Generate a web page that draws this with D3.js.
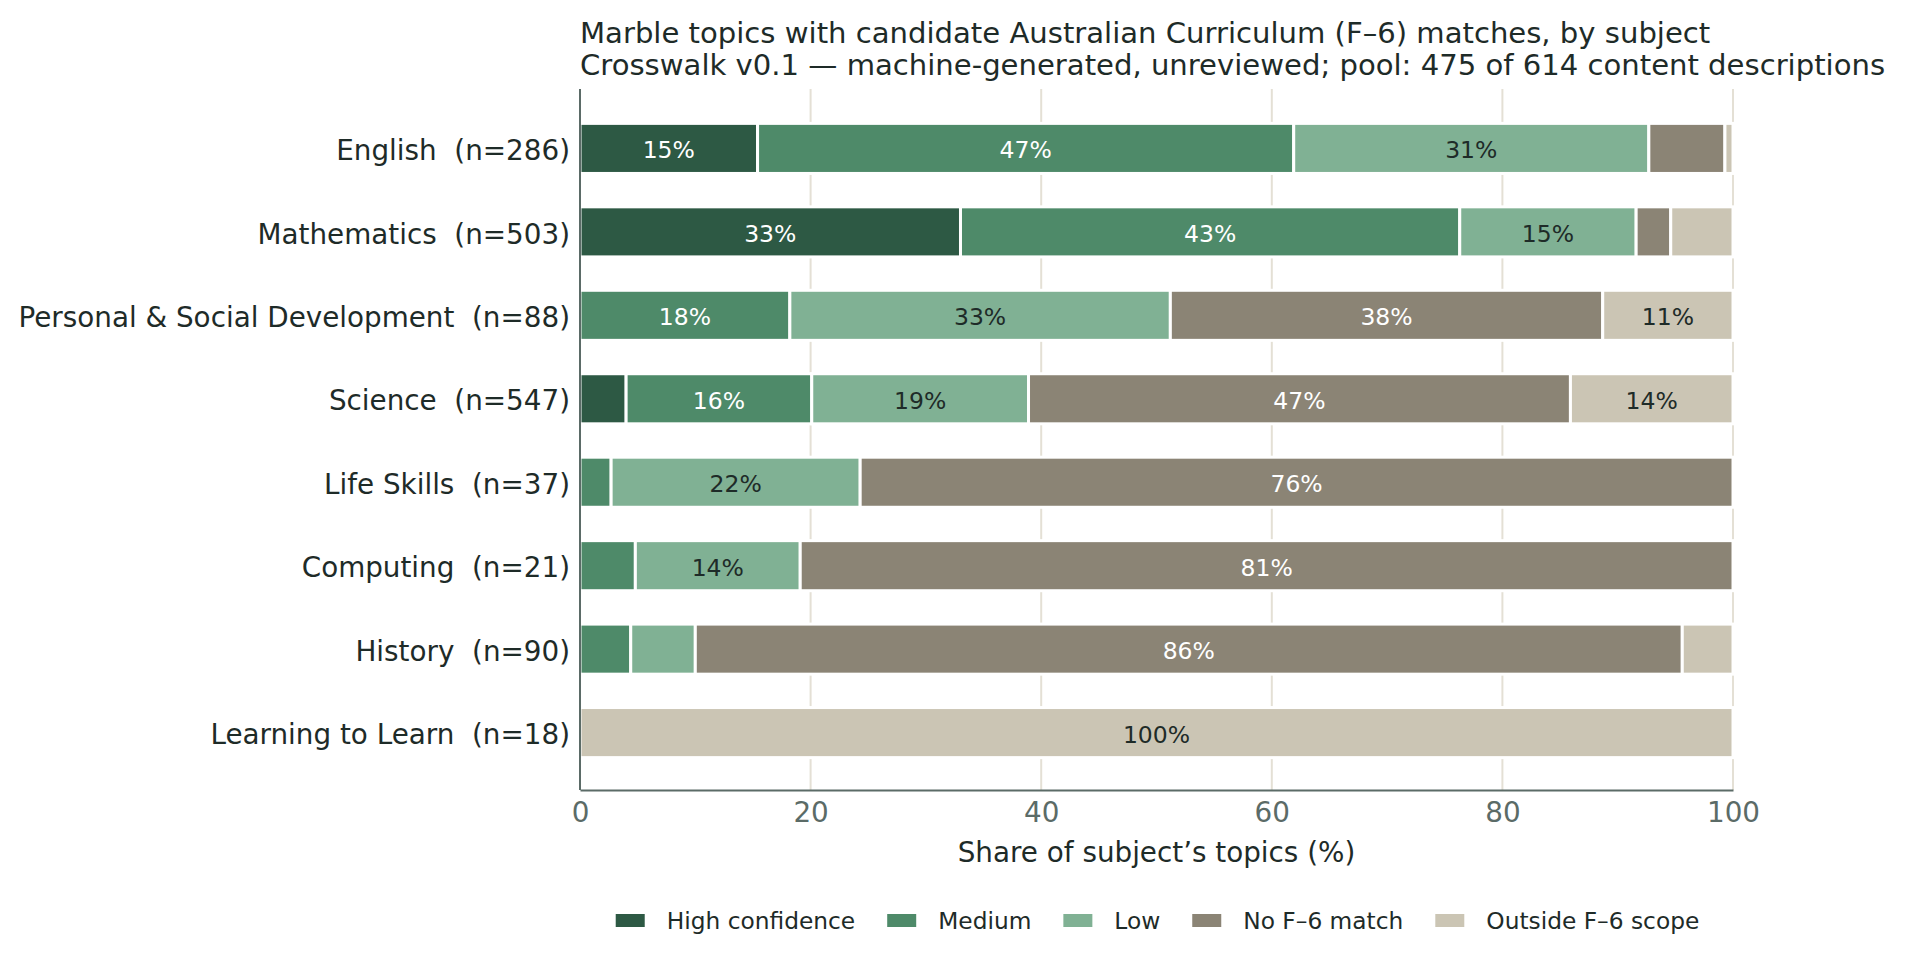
<!DOCTYPE html>
<html>
<head>
<meta charset="utf-8">
<script src="https://cdn.jsdelivr.net/npm/d3@7"></script>
<style>
  html, body { margin: 0; padding: 0; background: #ffffff; }
  svg { display: block; font-family: "DejaVu Sans", sans-serif; }
  text { white-space: pre; }
</style>
</head>
<body>
<svg id="chart" width="1907" height="963"></svg>
<script>
// ---- data ----
const subjects = ["English", "Mathematics", "Personal & Social Development", "Science",
                  "Life Skills", "Computing", "History", "Learning to Learn"];
const counts = [286, 503, 88, 547, 37, 21, 90, 18];
const seriesNames = ["High confidence", "Medium", "Low", "No F\u20136 match", "Outside F\u20136 scope"];
const highConfidence = [15.4, 33.0, 0, 4.0, 0, 0, 0, 0];
const medium = [46.5, 43.3, 18.2, 16.1, 2.7, 4.8, 4.4, 0];
const low = [30.8, 15.3, 33.0, 18.8, 21.6, 14.3, 5.6, 0];
const noMatch = [6.6, 3.0, 37.5, 47.0, 75.7, 80.9, 85.6, 0];
const outsideScope = [0.7, 5.4, 11.3, 14.1, 0, 0, 4.4, 100];
const xTicks = [0, 20, 40, 60, 80, 100];
const titleLines = [
  "Marble topics with candidate Australian Curriculum (F\u20136) matches, by subject",
  "Crosswalk v0.1 \u2014 machine-generated, unreviewed; pool: 475 of 614 content descriptions"
];
const xLabel = "Share of subject\u2019s topics (%)";

// ---- styles ----
const colors = ["#2d5944", "#4e8a69", "#80b194", "#8b8475", "#cbc5b4"];
const labelColors = ["#ffffff", "#ffffff", "#1e2b28", "#ffffff", "#1e2b28"];
const darkText = "#1e2b28";
const greyText = "#5b6b67";

const series = [highConfidence, medium, low, noMatch, outsideScope];
const rows = subjects.map((s, i) => {
  const r = { subject: s, label: `${s}  (n=${counts[i]})` };
  seriesNames.forEach((k, j) => r[k] = series[j][i]);
  return r;
});
const stacked = d3.stack().keys(seriesNames)(rows);

const margin = { left: 580, right: 1733, top: 89, bottom: 790 };
const svg = d3.select("#chart");

const x = d3.scaleLinear().domain([0, 100]).range([margin.left, margin.right]);
const y = d3.scaleBand().domain(rows.map(d => d.label))
  .range([margin.top + 1, margin.bottom + 1]).paddingInner(0.4).paddingOuter(0.4);

// grid
svg.append("g").selectAll("line").data(xTicks.filter(t => t > 0)).join("line")
  .attr("x1", d => x(d)).attr("x2", d => x(d))
  .attr("y1", margin.top).attr("y2", margin.bottom)
  .attr("stroke", "#e4e0d5").attr("stroke-width", 2);

// bars
const layers = svg.append("g").selectAll("g").data(stacked).join("g")
  .attr("fill", (d, i) => colors[i]);
layers.selectAll("rect").data(d => d.filter(p => p[1] - p[0] > 0)).join("rect")
  .attr("x", d => x(d[0]))
  .attr("width", d => x(d[1]) - x(d[0]))
  .attr("y", d => y(d.data.label))
  .attr("height", y.bandwidth())
  .attr("stroke", "#ffffff").attr("stroke-width", 3);

// bar labels
stacked.forEach((layer, i) => {
  svg.append("g").selectAll("text").data(layer.filter(p => p[1] - p[0] >= 8)).join("text")
    .attr("x", d => x((d[0] + d[1]) / 2))
    .attr("y", d => y(d.data.label) + y.bandwidth() / 2 + 2)
    .attr("text-anchor", "middle").attr("dominant-baseline", "central")
    .attr("font-size", 23.5).attr("fill", labelColors[i])
    .text(d => `${Math.round(d[1] - d[0])}%`);
});

// axes
const xAxis = svg.append("g").attr("transform", `translate(0,${margin.bottom})`)
  .call(d3.axisBottom(x).tickValues(xTicks).tickSize(0).tickPadding(12).tickFormat(d3.format("d")));
xAxis.select(".domain").attr("stroke", greyText).attr("stroke-width", 2);
xAxis.selectAll("text").attr("font-size", 27.8).attr("fill", greyText)
  .attr("font-family", "DejaVu Sans");

const yAxis = svg.append("g").attr("transform", `translate(${margin.left},0)`)
  .call(d3.axisLeft(y).tickSize(0).tickPadding(10));
yAxis.select(".domain").attr("stroke", greyText).attr("stroke-width", 2)
  .attr("d", `M0,${margin.top}V${margin.bottom}`);
yAxis.selectAll("text").attr("font-size", 27.8).attr("fill", darkText)
  .attr("font-family", "DejaVu Sans").attr("dy", "0.42em");

// x axis label
svg.append("text").attr("x", (margin.left + margin.right) / 2).attr("y", 862)
  .attr("text-anchor", "middle").attr("font-size", 27.8).attr("fill", darkText)
  .text(xLabel);

// title
svg.append("g").selectAll("text").data(titleLines).join("text")
  .attr("x", margin.left).attr("y", (d, i) => 43 + i * 32)
  .attr("font-size", 29.1).attr("fill", darkText).text(d => d);

// legend
const legend = svg.append("g");
const items = legend.selectAll("g").data(seriesNames).join("g");
items.append("rect").attr("width", 29).attr("height", 13).attr("y", 914)
  .attr("fill", (d, i) => colors[i]);
items.append("text").attr("x", 51).attr("y", 929)
  .attr("font-size", 23.3).attr("fill", darkText).text(d => d);
let widths = [];
items.each(function() { widths.push(51 + d3.select(this).select("text").node().getComputedTextLength()); });
const gap = 32;
const total = d3.sum(widths) + gap * (widths.length - 1);
let cx = (margin.left + margin.right) / 2 + 1 - total / 2;
items.each(function(d, i) {
  d3.select(this).attr("transform", `translate(${cx},0)`);
  cx += widths[i] + gap;
});
</script>
</body>
</html>
